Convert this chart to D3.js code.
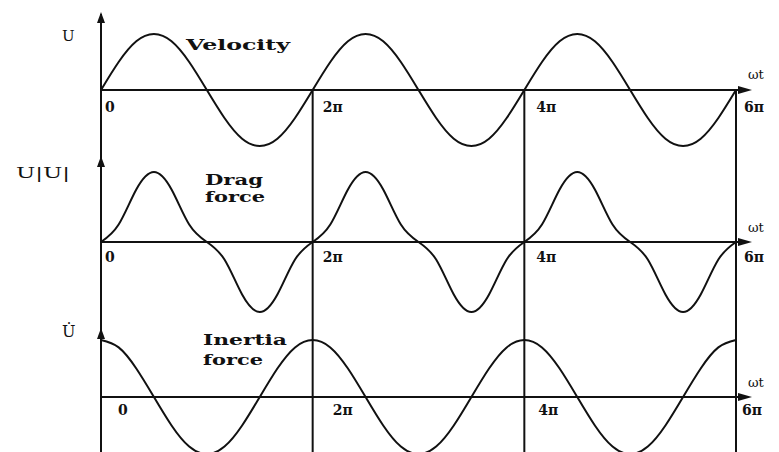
<!DOCTYPE html>
<html>
<head>
<meta charset="utf-8">
<script src="https://cdn.jsdelivr.net/npm/d3@7"></script>
<style>
  html, body { margin: 0; padding: 0; background: #fff; }
  svg { display: block; }
  text { font-family: "DejaVu Serif", "Liberation Serif", serif; fill: #111; }
</style>
</head>
<body>
<svg id="chart" width="779" height="452"></svg>
<script>
// Phase samples, in multiples of pi/6, from 0 to 6*pi
const phaseSteps = d3.range(0, 37);

// Velocity u (normalised), one value per pi/6
const velocity = [
  0, 0.5, 0.87, 1, 0.87, 0.5, 0, -0.5, -0.87, -1, -0.87, -0.5,
  0, 0.5, 0.87, 1, 0.87, 0.5, 0, -0.5, -0.87, -1, -0.87, -0.5,
  0, 0.5, 0.87, 1, 0.87, 0.5, 0, -0.5, -0.87, -1, -0.87, -0.5,
  0
];

// Drag force u|u| (normalised)
const dragForce = [
  0, 0.25, 0.75, 1, 0.75, 0.25, 0, -0.25, -0.75, -1, -0.75, -0.25,
  0, 0.25, 0.75, 1, 0.75, 0.25, 0, -0.25, -0.75, -1, -0.75, -0.25,
  0, 0.25, 0.75, 1, 0.75, 0.25, 0, -0.25, -0.75, -1, -0.75, -0.25,
  0
];

// Inertia force du/dt (normalised)
const inertiaForce = [
  1, 0.87, 0.5, 0, -0.5, -0.87, -1, -0.87, -0.5, 0, 0.5, 0.87,
  1, 0.87, 0.5, 0, -0.5, -0.87, -1, -0.87, -0.5, 0, 0.5, 0.87,
  1, 0.87, 0.5, 0, -0.5, -0.87, -1, -0.87, -0.5, 0, 0.5, 0.87,
  1
];

const tickSteps = [0, 12, 24, 36];
const tickLabels = ["0", "2\u03c0", "4\u03c0", "6\u03c0"];
const curveNames = [["Velocity"], ["Drag", "force"], ["Inertia", "force"]];
const yAxisLabels = ["U", "U|U|", "U\u0307"];
const xAxisLabel = "\u03c9t";

const svg = d3.select("#chart");
const ink = "#111";

const x = d3.scaleLinear().domain([0, 36]).range([101, 736]);

const panels = [
  { values: velocity, axisY: 90, amp: 56, arrowTop: 12,
    name: { x: 186, y: 50, gap: 0, widths: [104] },
    tickY: 112, tickDx: [4, 10, 12, 8], axisLabelY: 79 },
  { values: dragForce, axisY: 242, amp: 70, arrowTop: 156,
    name: { x: 205, y: 185, gap: 17, widths: [58, 60] },
    tickY: 262, tickDx: [4, 10, 12, 8], axisLabelY: 232 },
  { values: inertiaForce, axisY: 397, amp: 57, arrowTop: 328,
    name: { x: 203, y: 345, gap: 20, widths: [84, 60] },
    tickY: 415, tickDx: [17, 20, 14, 6], axisLabelY: 387 }
];

// Continuous left axis through all three panels
svg.append("line")
  .attr("x1", x(0)).attr("x2", x(0))
  .attr("y1", 14).attr("y2", 452)
  .attr("stroke", ink).attr("stroke-width", 2);

// Vertical period markers at 2pi, 4pi, 6pi, from the top axis down
tickSteps.slice(1).forEach(s => {
  svg.append("line")
    .attr("x1", x(s)).attr("x2", x(s))
    .attr("y1", panels[0].axisY).attr("y2", 452)
    .attr("stroke", ink).attr("stroke-width", 2);
});

panels.forEach((p, k) => {
  const y = d3.scaleLinear().domain([-1, 1]).range([p.axisY + p.amp, p.axisY - p.amp]);
  const g = svg.append("g");

  // horizontal time axis with arrow
  g.append("line")
    .attr("x1", x(0)).attr("x2", 742)
    .attr("y1", y(0)).attr("y2", y(0))
    .attr("stroke", ink).attr("stroke-width", 2);
  g.append("path")
    .attr("d", `M752,${y(0)} L738,${y(0) - 4} L738,${y(0) + 4} Z`)
    .attr("fill", ink);

  // vertical arrowhead
  g.append("path")
    .attr("d", `M${x(0)},${p.arrowTop} L${x(0) - 4},${p.arrowTop + 11} L${x(0) + 4},${p.arrowTop + 11} Z`)
    .attr("fill", ink);

  // the curve
  const line = d3.line()
    .x((d, i) => x(phaseSteps[i]))
    .y(d => y(d))
    .curve(d3.curveNatural);
  g.append("path")
    .datum(p.values)
    .attr("d", line)
    .attr("fill", "none")
    .attr("stroke", ink)
    .attr("stroke-width", 2);

  // tick labels
  tickSteps.forEach((s, i) => {
    g.append("text")
      .attr("x", x(s) + p.tickDx[i])
      .attr("y", p.tickY)
      .attr("font-size", 14)
      .attr("font-weight", "bold")
      .text(tickLabels[i]);
  });

  // omega t label
  g.append("text")
    .attr("x", 748).attr("y", p.axisLabelY)
    .attr("font-size", 13)
    .text(xAxisLabel);

  // curve name
  curveNames[k].forEach((t, i) => {
    g.append("text")
      .attr("x", p.name.x)
      .attr("y", p.name.y + i * p.name.gap)
      .attr("font-size", 15)
      .attr("font-weight", "bold")
      .attr("textLength", p.name.widths[i])
      .attr("lengthAdjust", "spacingAndGlyphs")
      .text(t);
  });
});

// y axis labels
svg.append("text").attr("x", 62).attr("y", 41)
  .attr("font-size", 15).text(yAxisLabels[0]);
svg.append("text").attr("x", 16).attr("y", 178)
  .attr("font-size", 15).attr("textLength", 54).attr("lengthAdjust", "spacingAndGlyphs")
  .text(yAxisLabels[1]);
svg.append("text").attr("x", 62).attr("y", 337)
  .attr("font-size", 16).text(yAxisLabels[2]);
</script>
</body>
</html>
